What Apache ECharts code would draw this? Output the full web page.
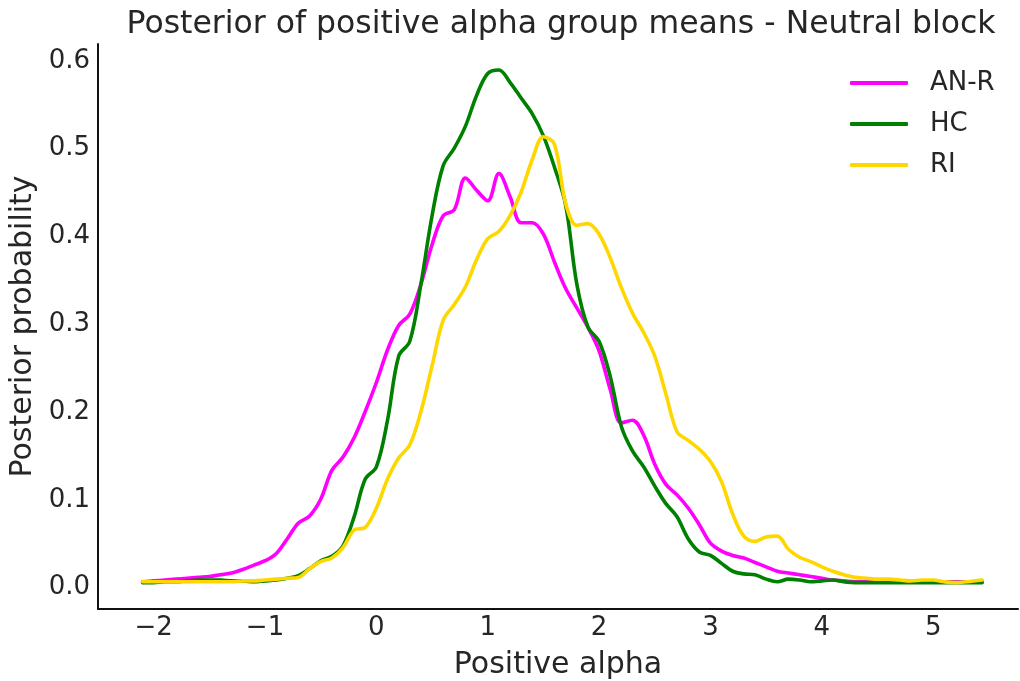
<!DOCTYPE html>
<html>
<head>
<meta charset="utf-8">
<script src="https://cdn.jsdelivr.net/npm/echarts@6/dist/echarts.min.js"></script>
<style>
  html, body { margin: 0; padding: 0; background: #fff; }
  #chart { width: 1020px; height: 681px; }
</style>
</head>
<body>
<div id="chart"></div>
<script>
// Sampling grid for the posterior density curves (positive alpha)
const alphaGrid = [
  -2.1, -2.0, -1.9, -1.8, -1.7, -1.6, -1.5, -1.4, -1.3, -1.2, -1.1,
  -1.0, -0.9, -0.8, -0.7, -0.6, -0.5, -0.4, -0.3, -0.2, -0.1,
  0.0, 0.1, 0.2, 0.3, 0.4, 0.5, 0.6, 0.7, 0.8, 0.9,
  1.0, 1.1, 1.2, 1.3, 1.4, 1.5, 1.6, 1.7, 1.8, 1.9,
  2.0, 2.1, 2.2, 2.3, 2.4, 2.5, 2.6, 2.7, 2.8, 2.9,
  3.0, 3.1, 3.2, 3.3, 3.4, 3.5, 3.6, 3.7, 3.8, 3.9,
  4.0, 4.1, 4.2, 4.3, 4.4, 4.5, 4.6, 4.7, 4.8, 4.9,
  5.0, 5.1, 5.2, 5.3, 5.44
];

const seriesNames = ['AN-R', 'HC', 'RI'];
const seriesColors = ['#ff00ff', '#008000', '#ffd700'];

const anrDensity = [
  0.001, 0.002, 0.003, 0.004, 0.005, 0.006, 0.007, 0.009, 0.011, 0.015, 0.020,
  0.025, 0.033, 0.050, 0.068, 0.076, 0.095, 0.128, 0.143, 0.165, 0.195,
  0.228, 0.265, 0.293, 0.306, 0.340, 0.385, 0.418, 0.425, 0.461, 0.447,
  0.435, 0.466, 0.440, 0.410, 0.410, 0.397, 0.365, 0.335, 0.313, 0.291,
  0.264, 0.220, 0.182, 0.185, 0.168, 0.135, 0.112, 0.100, 0.085, 0.066,
  0.045, 0.036, 0.031, 0.028, 0.023, 0.018, 0.013, 0.011, 0.009, 0.007,
  0.005, 0.003, 0.002, 0.001, 0.001, 0.001, 0.001, 0.001, 0.001, 0.001,
  0.001, 0.001, 0.001, 0.001, 0.001
];

const hcDensity = [
  0.000, 0.000, 0.001, 0.001, 0.002, 0.003, 0.003, 0.003, 0.002, 0.002, 0.001,
  0.002, 0.003, 0.005, 0.008, 0.016, 0.025, 0.030, 0.042, 0.075, 0.118,
  0.132, 0.185, 0.258, 0.275, 0.340, 0.418, 0.475, 0.495, 0.520, 0.555,
  0.580, 0.584, 0.570, 0.552, 0.534, 0.509, 0.473, 0.430, 0.340, 0.291,
  0.275, 0.235, 0.178, 0.150, 0.132, 0.110, 0.090, 0.075, 0.050, 0.035,
  0.031, 0.022, 0.013, 0.010, 0.009, 0.004, 0.001, 0.004, 0.003, 0.001,
  0.002, 0.003, 0.001, 0.000, 0.000, 0.000, 0.000, 0.000, 0.000, 0.000,
  0.000, 0.000, 0.000, 0.000, 0.000
];

const riDensity = [
  0.001, 0.001, 0.001, 0.001, 0.001, 0.001, 0.001, 0.001, 0.001, 0.002, 0.002,
  0.003, 0.004, 0.005, 0.006, 0.016, 0.024, 0.028, 0.040, 0.060, 0.063,
  0.085, 0.118, 0.142, 0.157, 0.195, 0.247, 0.299, 0.317, 0.337, 0.368,
  0.392, 0.400, 0.418, 0.445, 0.482, 0.508, 0.499, 0.432, 0.407, 0.409,
  0.397, 0.370, 0.336, 0.307, 0.285, 0.258, 0.215, 0.172, 0.162, 0.152,
  0.138, 0.115, 0.078, 0.053, 0.047, 0.052, 0.053, 0.038, 0.029, 0.024,
  0.018, 0.013, 0.009, 0.006, 0.005, 0.004, 0.004, 0.003, 0.002, 0.003,
  0.003, 0.001, 0.000, 0.001, 0.003
];

const densities = [anrDensity, hcDensity, riDensity];

const textColor = '#262626';
const fontFamily = 'DejaVu Sans';

function pairs(ys) {
  return alphaGrid.map((x, i) => [x, ys[i]]);
}

function isMultiple(v, step) {
  const k = v / step;
  return Math.abs(k - Math.round(k)) < 1e-6;
}

const chart = echarts.init(document.getElementById('chart'), null, { renderer: 'canvas' });

chart.setOption({
  backgroundColor: '#ffffff',
  animation: false,
  title: {
    text: 'Posterior of positive alpha group means - Neutral block',
    left: 556,
    top: 4,
    textAlign: 'center',
    textStyle: { fontFamily, fontSize: 31.5, fontWeight: 'normal', color: textColor }
  },
  legend: {
    orient: 'vertical',
    left: 850,
    top: 68,
    padding: 0,
    icon: 'roundRect',
    itemWidth: 58,
    itemHeight: 4,
    itemGap: 11,
    data: seriesNames,
    textStyle: { fontFamily, fontSize: 26, color: textColor, padding: [0, 0, 0, 17], lineHeight: 30 }
  },
  grid: { left: 98, right: 2, top: 44, bottom: 72, containLabel: false, outerBoundsMode: 'none' },
  xAxis: {
    type: 'value',
    min: -2.5,
    max: 5.762,
    interval: 0.5,
    name: 'Positive alpha',
    nameLocation: 'middle',
    nameGap: 41,
    nameTextStyle: { fontFamily, fontSize: 30, color: textColor },
    axisLine: { show: true, onZero: false, lineStyle: { color: '#111', width: 2 } },
    axisTick: { show: false },
    splitLine: { show: false },
    axisLabel: {
      fontFamily, fontSize: 26, color: textColor, margin: 6,
      formatter: v => isMultiple(v, 1) ? String(Math.round(v)).replace('-', '\u2212') : ''
    }
  },
  yAxis: {
    type: 'value',
    min: -0.03,
    max: 0.6136,
    interval: 0.01,
    name: 'Posterior probability',
    nameLocation: 'middle',
    nameGap: 60,
    nameTextStyle: { fontFamily, fontSize: 30, color: textColor },
    axisLine: { show: true, onZero: false, lineStyle: { color: '#111', width: 2 } },
    axisTick: { show: false },
    splitLine: { show: false },
    axisLabel: {
      fontFamily, fontSize: 26, color: textColor, margin: 8,
      verticalAlign: 'top',
      lineHeight: 10,
      formatter: v => (v > -1e-6 && isMultiple(v, 0.1)) ? (Math.round(v * 10) / 10).toFixed(1) : ''
    }
  },
  series: seriesNames.map((name, i) => ({
    name,
    type: 'line',
    data: pairs(densities[i]),
    smooth: 0.35,
    showSymbol: false,
    symbol: 'none',
    color: seriesColors[i],
    lineStyle: { color: seriesColors[i], width: 3.6, cap: 'round', join: 'round' },
    z: 2 + i
  }))
});
</script>
</body>
</html>
